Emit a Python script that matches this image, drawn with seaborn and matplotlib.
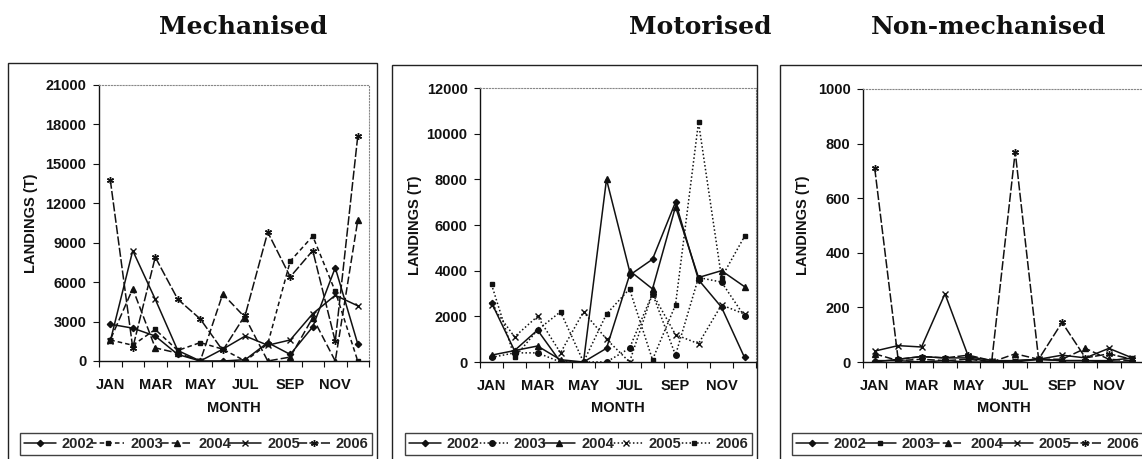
import matplotlib
matplotlib.use("Agg")
import matplotlib.pyplot as plt
import seaborn as sns
import pandas as pd
import numpy as np
from matplotlib.lines import Line2D
from matplotlib.patches import Rectangle

# ---------------- data ----------------
months = ["JAN", "FEB", "MAR", "APR", "MAY", "JUN", "JUL", "AUG", "SEP", "OCT", "NOV", "DEC"]
years = ["2002", "2003", "2004", "2005", "2006"]

mech_2002 = [2800, 2500, 1900, 500, 0, 0, 100, 1400, 500, 2600, 7100, 1300]
mech_2003 = [1600, 1200, 2400, 800, 1400, 900, 0, 1300, 7600, 9500, 5300, 0]
mech_2004 = [1600, 5500, 1000, 600, 0, 5100, 3300, 0, 300, 3300, 0, 10700]
mech_2005 = [1500, 8400, 4700, 800, 0, 900, 1900, 1200, 1600, 3600, 5000, 4200]
mech_2006 = [13800, 1000, 7900, 4700, 3200, 800, 3500, 9800, 6400, 8400, 1500, 17100]

motor_2002 = [2600, 500, 1400, 0, 0, 600, 3800, 4500, 7000, 3600, 2400, 200]
motor_2003 = [200, 400, 400, 0, 0, 0, 600, 3000, 300, 3700, 3500, 2000]
motor_2004 = [300, 500, 700, 100, 0, 8000, 4000, 3200, 6800, 3700, 4000, 3300]
motor_2005 = [2500, 1100, 2000, 400, 2200, 1000, 0, 3000, 1200, 800, 2500, 2100]
motor_2006 = [3400, 200, 1400, 2200, 0, 2100, 3200, 100, 2500, 10500, 3700, 5500]

nonmech_2002 = [5, 5, 0, 5, 0, 0, 0, 10, 5, 5, 0, 0]
nonmech_2003 = [0, 10, 20, 15, 15, 0, 5, 10, 5, 5, 5, 15]
nonmech_2004 = [30, 5, 10, 5, 10, 0, 30, 10, 10, 50, 10, 5]
nonmech_2005 = [40, 60, 55, 250, 20, 5, 5, 10, 25, 15, 50, 15]
nonmech_2006 = [710, 10, 20, 15, 25, 5, 770, 10, 145, 15, 30, 10]

titles = ["Mechanised", "Motorised", "Non-mechanised"]
y_maxes = [21000, 12000, 1000]
y_steps = [3000, 2000, 200]
x_label = "MONTH"
y_label = "LANDINGS (T)"


def make_df(series):
    rows = []
    for yr, vals in zip(years, series):
        for m, v in zip(months, vals):
            rows.append({"month": m, "year": yr, "landings": v})
    return pd.DataFrame(rows)


dfs = [
    make_df([mech_2002, mech_2003, mech_2004, mech_2005, mech_2006]),
    make_df([motor_2002, motor_2003, motor_2004, motor_2005, motor_2006]),
    make_df([nonmech_2002, nonmech_2003, nonmech_2004, nonmech_2005, nonmech_2006]),
]

# ---------------- style ----------------
sns.set_theme(style="ticks")
plt.rcParams["font.family"] = ["Liberation Sans", "DejaVu Sans"]

ASTER = (6, 2, 0)
marker_sets = [
    {"2002": "D", "2003": "s", "2004": "^", "2005": "x", "2006": ASTER},
    {"2002": "D", "2003": "o", "2004": "^", "2005": "x", "2006": "s"},
    {"2002": "D", "2003": "s", "2004": "^", "2005": "x", "2006": ASTER},
]
dash_sets = [
    {"2002": None, "2003": (3, 2), "2004": (5, 2), "2005": None, "2006": (6, 1.5)},
    {"2002": None, "2003": (1, 1.5), "2004": None, "2005": (1, 1.5), "2006": (1, 1.5)},
    {"2002": None, "2003": None, "2004": (5, 2), "2005": None, "2006": (6, 1.5)},
]
marker_sizes = {"D": 3.2, "s": 3.5, "^": 4, "x": 4.5, "o": 4}
INK = "#111111"
FS = 10.5
FW = "bold"

W, H = 1142, 459
fig = plt.figure(figsize=(W / 100, H / 100), dpi=100)


def fx(px):
    return px / W


def fy(py):
    return 1 - py / H


def msize(m):
    return marker_sizes.get(m, 5) if isinstance(m, str) else 5


# pixel layouts
layouts = [
    dict(ax=(99, 85, 369, 361), frame=(8, 63, 377), leg=(20, 372), tx=243, ylx=38),
    dict(ax=(480, 88, 756, 362), frame=(392, 65, 757), leg=(405, 752), tx=700, ylx=422),
    dict(ax=(863, 89, 1144, 362), frame=(780, 65, 1160), leg=(792, 1143), tx=989, ylx=810),
]

for i, lay in enumerate(layouts):
    l, t, r, b = lay["ax"]
    ax = fig.add_axes([fx(l), fy(b), (r - l) / W, (b - t) / H])
    mk = marker_sets[i]
    ds = dash_sets[i]
    df = dfs[i]
    for yr in years:
        ls = "-" if ds[yr] is None else (0, ds[yr])
        sns.lineplot(
            data=df[df["year"] == yr], x="month", y="landings",
            marker=mk[yr], markersize=msize(mk[yr]), linestyle=ls,
            color=INK, linewidth=1.1,
            markeredgecolor=INK, markerfacecolor=INK, markeredgewidth=1.0,
            estimator=None, sort=False, legend=False, ax=ax,
        )
    ax.set_xlim(-0.5, 11.5)
    ax.set_ylim(0, y_maxes[i])
    ax.set_yticks(np.arange(0, y_maxes[i] + 1, y_steps[i]))
    ax.set_xticks(range(0, 12, 2))
    ax.set_xticklabels(months[::2], fontweight=FW)
    ax.set_yticklabels([str(v) for v in np.arange(0, y_maxes[i] + 1, y_steps[i])],
                       fontweight=FW)
    ax.set_xticks(np.arange(-0.5, 12, 1), minor=True)
    ax.tick_params(axis="x", which="major", length=0, pad=12, labelsize=FS, colors=INK)
    ax.tick_params(axis="x", which="minor", length=4, width=0.8, direction="out", color=INK)
    ax.tick_params(axis="y", which="major", length=4, width=0.8, direction="out", pad=5,
                   labelsize=FS, colors=INK)
    for s in ["top", "right"]:
        ax.spines[s].set_linestyle(":")
        ax.spines[s].set_color("#888888")
        ax.spines[s].set_linewidth(0.8)
    for s in ["left", "bottom"]:
        ax.spines[s].set_color(INK)
        ax.spines[s].set_linewidth(1.0)
    ax.set_xlabel(x_label, fontsize=FS, fontweight=FW, color=INK)
    ax.xaxis.set_label_coords(0.5, (b - 401) / (b - t))
    ax.set_ylabel(y_label, fontsize=FS, fontweight=FW, color=INK)
    ax.yaxis.set_label_coords((lay["ylx"] - l) / (r - l), 0.5)

    # outer chart frame
    fl, ft, fr = lay["frame"]
    fig.add_artist(Rectangle((fx(fl), fy(480)), (fr - fl) / W, (480 - ft) / H,
                             transform=fig.transFigure, fill=False, edgecolor="#222222",
                             linewidth=1.0))

    # title
    fig.text(fx(lay["tx"]), fy(27), titles[i], ha="center", va="center", fontsize=18,
             fontweight="bold", family="DejaVu Serif", color=INK)

    # legend
    handles = []
    for yr in years:
        m = mk[yr]
        h = Line2D([], [], color=INK, marker=m, markersize=msize(m),
                   markerfacecolor=INK, markeredgecolor=INK, linewidth=1.1)
        if ds[yr] is not None:
            h.set_dashes(ds[yr])
        handles.append(h)
    ll, lr = lay["leg"]
    leg = fig.legend(handles, years, loc="center", ncol=5, mode="expand",
                     bbox_to_anchor=(fx(ll), fy(455), (lr - ll) / W, 22 / H),
                     bbox_transform=fig.transFigure, frameon=True, fancybox=False,
                     edgecolor=INK, prop={"size": FS, "weight": FW}, handlelength=2.2,
                     handletextpad=0.4, columnspacing=0.5, borderpad=0.25,
                     borderaxespad=0.0, numpoints=1)
    leg.get_frame().set_linewidth(1.0)

fig.savefig("out.png", dpi=100)
